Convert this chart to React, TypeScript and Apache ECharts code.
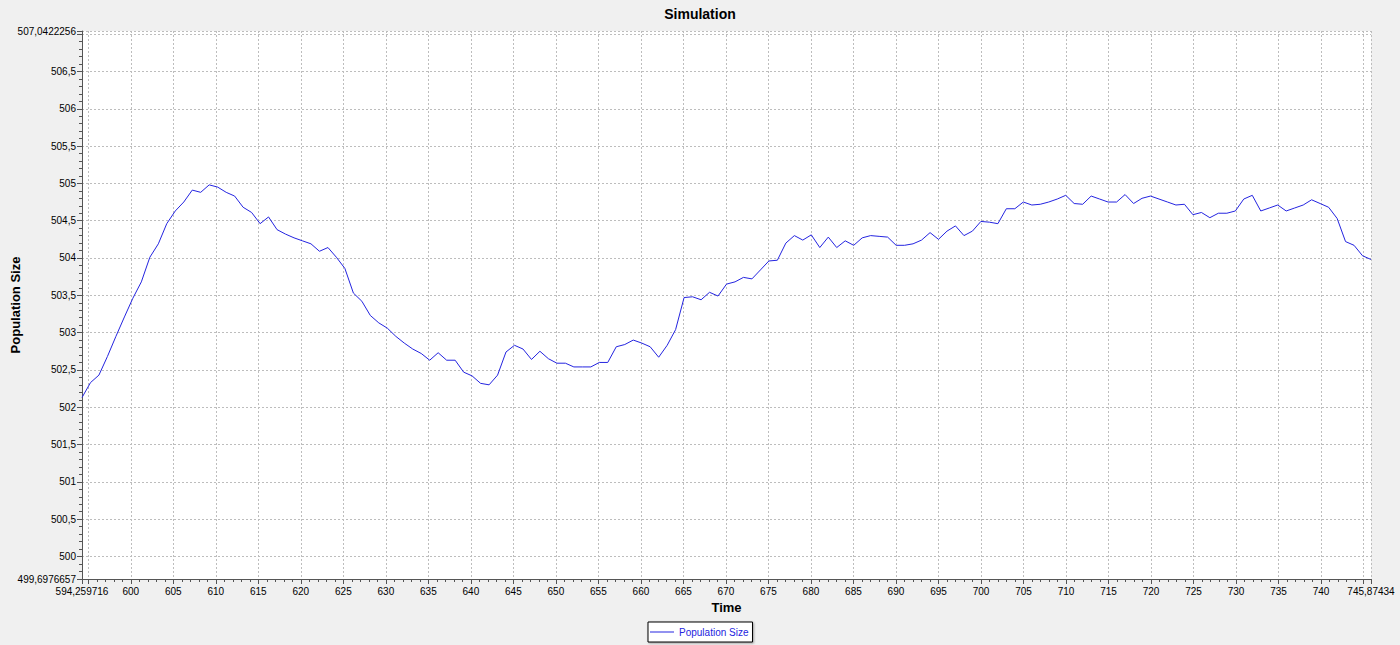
import React, { useEffect, useRef } from "react";
import * as echarts from "echarts";

const TITLE = "Simulation";
const SERIES_NAME = "Population Size";
const X_NAME = "Time";
const Y_NAME = "Population Size";

const X_MIN = 594.259716;
const X_MAX = 745.87434;
const Y_MIN = 499.6976657;
const Y_MAX = 507.0422256;

const xMajorTicks = [595, 600, 605, 610, 615, 620, 625, 630, 635, 640, 645, 650, 655, 660, 665, 670, 675, 680, 685, 690, 695, 700, 705, 710, 715, 720, 725, 730, 735, 740, 745];
const xTickLabels = [600, 605, 610, 615, 620, 625, 630, 635, 640, 645, 650, 655, 660, 665, 670, 675, 680, 685, 690, 695, 700, 705, 710, 715, 720, 725, 730, 735, 740];
const yMajorTicks = [500, 500.5, 501, 501.5, 502, 502.5, 503, 503.5, 504, 504.5, 505, 505.5, 506, 506.5, 507];
const yTickLabels = [500, 500.5, 501, 501.5, 502, 502.5, 503, 503.5, 504, 504.5, 505, 505.5, 506, 506.5];

const times = [
  594.26, 595.26, 596.25, 597.25, 598.25, 599.25, 600.24, 601.24, 602.24, 603.24,
  604.23, 605.23, 606.23, 607.23, 608.22, 609.22, 610.22, 611.22, 612.21, 613.21,
  614.21, 615.21, 616.2, 617.2, 618.2, 619.2, 620.19, 621.19, 622.19, 623.19,
  624.18, 625.18, 626.18, 627.18, 628.17, 629.17, 630.17, 631.17, 632.16, 633.16,
  634.16, 635.16, 636.15, 637.15, 638.15, 639.15, 640.14, 641.14, 642.14, 643.14,
  644.13, 645.13, 646.13, 647.13, 648.12, 649.12, 650.12, 651.12, 652.11, 653.11,
  654.11, 655.11, 656.1, 657.1, 658.1, 659.1, 660.09, 661.09, 662.09, 663.09,
  664.08, 665.08, 666.08, 667.08, 668.07, 669.07, 670.07, 671.07, 672.06, 673.06,
  674.06, 675.05, 676.05, 677.05, 678.05, 679.04, 680.04, 681.04, 682.04, 683.03,
  684.03, 685.03, 686.03, 687.02, 688.02, 689.02, 690.02, 691.01, 692.01, 693.01,
  694.01, 695.0, 696.0, 697.0, 698.0, 698.99, 699.99, 700.99, 701.99, 702.98,
  703.98, 704.98, 705.98, 706.97, 707.97, 708.97, 709.97, 710.96, 711.96, 712.96,
  713.96, 714.95, 715.95, 716.95, 717.95, 718.94, 719.94, 720.94, 721.94, 722.93,
  723.93, 724.93, 725.93, 726.92, 727.92, 728.92, 729.92, 730.91, 731.91, 732.91,
  733.91, 734.9, 735.9, 736.9, 737.9, 738.89, 739.89, 740.89, 741.89, 742.88,
  743.88, 744.88, 745.87434,
];

const population = [
  502.13, 502.33, 502.43, 502.68, 502.95, 503.21, 503.46, 503.68, 504.01, 504.19,
  504.46, 504.63, 504.75, 504.91, 504.88, 504.98, 504.95, 504.88, 504.83, 504.68,
  504.61, 504.46, 504.55, 504.38, 504.32, 504.27, 504.23, 504.19, 504.09, 504.14,
  504.01, 503.86, 503.53, 503.42, 503.23, 503.13, 503.06, 502.95, 502.86, 502.78,
  502.72, 502.63, 502.73, 502.63, 502.63, 502.47, 502.42, 502.32, 502.3, 502.43,
  502.74, 502.83, 502.78, 502.64, 502.75, 502.65, 502.59, 502.59, 502.54, 502.54,
  502.54, 502.6, 502.6, 502.81, 502.84, 502.9, 502.86, 502.81, 502.67, 502.83,
  503.04, 503.47, 503.48, 503.44, 503.54, 503.49, 503.65, 503.68, 503.74, 503.72,
  503.84, 503.96, 503.97, 504.2, 504.3, 504.24, 504.31, 504.14, 504.28, 504.14,
  504.23, 504.17, 504.27, 504.3, 504.29, 504.28, 504.17, 504.17, 504.19, 504.24,
  504.34, 504.25, 504.36, 504.43, 504.3, 504.36, 504.49, 504.48, 504.46, 504.66,
  504.66, 504.75, 504.71, 504.72, 504.75, 504.79, 504.84, 504.73, 504.72, 504.83,
  504.79, 504.75, 504.75, 504.85, 504.73, 504.8, 504.83, 504.79, 504.75, 504.71,
  504.72, 504.58, 504.61, 504.54, 504.6, 504.6, 504.63, 504.79, 504.84, 504.63,
  504.67, 504.71, 504.63, 504.67, 504.71, 504.78, 504.73, 504.68, 504.53, 504.22,
  504.17, 504.03, 503.98,
];

const FONT = "Liberation Sans";
const LINE_BLUE = "#2424e0";

function fmtX(v: number): string {
  if (Math.abs(v - X_MIN) < 1e-6) return "594,259716";
  if (Math.abs(v - X_MAX) < 1e-6) return "745,87434";
  return String(v).replace(".", ",");
}
function fmtY(v: number): string {
  if (Math.abs(v - Y_MIN) < 1e-6) return "499,6976657";
  if (Math.abs(v - Y_MAX) < 1e-6) return "507,0422256";
  return String(v).replace(".", ",");
}

export default function App() {
  const ref = useRef<HTMLDivElement>(null);

  useEffect(() => {
    if (!ref.current) return;
    const chart = echarts.init(ref.current, null, { renderer: "svg" });

    const xMinor: number[] = [];
    for (let t = 595; t <= 745; t += 1) xMinor.push(t);
    const yMinor: number[] = [];
    for (let i = 4997; i <= 5070; i += 1) yMinor.push(i / 10);

    const axisLineStyle = { color: "#555", width: 1 };
    const splitStyle = { color: "#bdbdbd", width: 1, type: [2, 2] as any };
    const labelStyle = { color: "#000", fontSize: 10, fontFamily: FONT };

    chart.setOption({
      animation: false,
      backgroundColor: "#f0f0f0",
      title: {
        text: TITLE,
        left: "center",
        top: 2,
        textStyle: { fontSize: 14, fontWeight: "bold", color: "#000", fontFamily: FONT },
      },
      legend: {
        data: [{ name: SERIES_NAME, icon: "path://M0,0 H24 V1 H0 Z" }],
        left: 648,
        bottom: 3,
        orient: "horizontal",
        borderColor: "#000",
        borderWidth: 1,
        padding: [5, 4, 5, 2],
        itemWidth: 24,
        itemHeight: 12,
        backgroundColor: "#fff",
        shadowColor: "rgba(0,0,0,0.35)",
        shadowBlur: 2,
        shadowOffsetX: 1,
        shadowOffsetY: 1,
        textStyle: { color: LINE_BLUE, fontSize: 10, fontFamily: FONT },
      },
      grid: {
        left: 82,
        right: 29,
        top: 31,
        bottom: 66,
        show: true,
        backgroundColor: "#ffffff",
        borderWidth: 0,
        containLabel: false,
        outerBoundsMode: "none",
      },
      xAxis: [
        {
          type: "value",
          min: X_MIN,
          max: X_MAX,
          position: "bottom",
          name: X_NAME,
          nameLocation: "middle",
          nameGap: 22,
          nameMoveOverlap: false,
          nameTextStyle: { fontSize: 13, fontWeight: "bold", color: "#000", fontFamily: FONT },
          axisLine: { show: true, lineStyle: axisLineStyle },
          axisTick: { show: true, length: 5, lineStyle: axisLineStyle, customValues: [X_MIN, ...xMajorTicks, X_MAX] },
          axisLabel: { ...labelStyle, margin: 7, customValues: [X_MIN, ...xTickLabels, X_MAX], formatter: fmtX },
          splitLine: { show: true, lineStyle: splitStyle },
        },
        {
          type: "value",
          min: X_MIN,
          max: X_MAX,
          position: "bottom",
          offset: 0,
          axisLine: { show: false },
          axisTick: { show: true, length: 3, lineStyle: axisLineStyle, customValues: xMinor },
          axisLabel: { show: false },
          splitLine: { show: false },
        },
      ],
      yAxis: [
        {
          type: "value",
          min: Y_MIN,
          max: Y_MAX,
          position: "left",
          name: Y_NAME,
          nameLocation: "middle",
          nameGap: 60,
          nameMoveOverlap: false,
          nameTextStyle: { fontSize: 13, fontWeight: "bold", color: "#000", fontFamily: FONT },
          axisLine: { show: true, lineStyle: axisLineStyle },
          axisTick: { show: true, length: 5, lineStyle: axisLineStyle, customValues: [Y_MIN, ...yMajorTicks, Y_MAX] },
          axisLabel: { ...labelStyle, margin: 6, customValues: [Y_MIN, ...yTickLabels, Y_MAX], formatter: fmtY },
          splitLine: { show: true, lineStyle: splitStyle },
        },
        {
          type: "value",
          min: Y_MIN,
          max: Y_MAX,
          position: "left",
          offset: 0,
          axisLine: { show: false },
          axisTick: { show: true, length: 3, lineStyle: axisLineStyle, customValues: yMinor },
          axisLabel: { show: false },
          splitLine: { show: false },
        },
      ],
      series: [
        {
          name: SERIES_NAME,
          type: "line",
          xAxisIndex: 0,
          yAxisIndex: 0,
          symbol: "none",
          showSymbol: false,
          lineStyle: { color: LINE_BLUE, width: 1 },
          itemStyle: { color: LINE_BLUE },
          data: times.map((t, i) => [t, population[i]]),
        },
      ],
    });

    return () => chart.dispose();
  }, []);

  return (
    <div
      ref={ref}
      style={{ position: "absolute", left: 0, top: 0, width: 1400, height: 645 }}
    />
  );
}
